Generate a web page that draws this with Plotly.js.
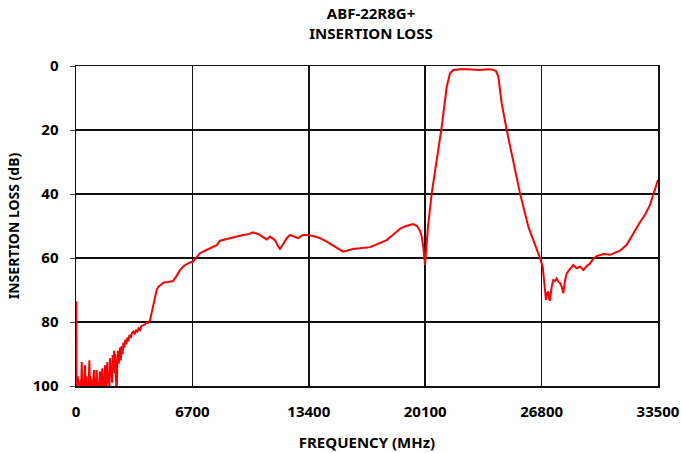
<!DOCTYPE html>
<html>
<head>
<meta charset="utf-8">
<script src="https://cdn.plot.ly/plotly-3.0.1.min.js"></script>
<style>html,body{margin:0;padding:0;background:#fff;}#chart{width:682px;height:453px;}</style>
</head>
<body>
<div id="chart"></div>
<script>
var freqMHz = [0, 15, 30, 60, 100, 140, 180, 220, 260, 300, 330, 360, 400, 440, 480, 520, 560, 600, 640, 680, 720, 770, 800, 840, 880, 920, 960, 1000, 1040, 1080, 1120, 1160, 1190, 1230, 1270, 1310, 1350, 1380, 1420, 1460, 1515, 1550, 1590, 1630, 1670, 1710, 1750, 1800, 1840, 1880, 1920, 1960, 2000, 2040, 2080, 2110, 2150, 2190, 2230, 2250, 2290, 2340, 2380, 2420, 2460, 2530, 2580, 2620, 2680, 2724, 2780, 2840, 2900, 2960, 3010, 3080, 3150, 3220, 3300, 3380, 3450, 3530, 3600, 3684, 3760, 3874, 3960, 4050, 4150, 4260, 4357, 4450, 4547, 4640, 4737, 4880, 5025, 5300, 5583, 5800, 5986, 6200, 6500, 6735, 6900, 7137, 7500, 7800, 8099, 8289, 8700, 9100, 9612, 9900, 10188, 10476, 10750, 10977, 11167, 11454, 11600, 11742, 11950, 12128, 12318, 12550, 12778, 13066, 13354, 13700, 14045, 14430, 14900, 15368, 15944, 16400, 16922, 17200, 17498, 17884, 18300, 18689, 19000, 19398, 19628, 19800, 19899, 20000, 20089, 20180, 20262, 20474, 20762, 21050, 21338, 21528, 21718, 22100, 22489, 22900, 23255, 23550, 23830, 24000, 24176, 24308, 24504, 24792, 25172, 25557, 26035, 26300, 26519, 26706, 26862, 26994, 27052, 27120, 27187, 27240, 27284, 27380, 27476, 27570, 27667, 27763, 27858, 27958, 28050, 28150, 28244, 28430, 28626, 28816, 29010, 29200, 29400, 29586, 29780, 29970, 30350, 30735, 31000, 31313, 31697, 31950, 32174, 32463, 32750, 33039, 33300, 33500];
var insertionLossDB = [100, 73.5, 100, 102, 97, 101, 99, 103, 98, 101, 92.5, 101, 98, 102, 96, 93.5, 102, 97, 101, 99, 102, 92, 101, 97, 102, 98, 101, 99, 95, 102, 98, 101, 95, 102, 99, 101, 97, 95.5, 102, 98, 94.5, 101, 97, 102, 93.5, 99, 101, 92.5, 99, 96, 101, 91.3, 97, 94, 99, 90.3, 95, 89, 96, 90, 94, 103, 92, 89, 93, 88, 92, 87.5, 90, 86.5, 88, 85.5, 87, 84.8, 86, 84, 85, 83.5, 83, 83.8, 82.5, 83, 82, 82.5, 81.3, 81, 80.8, 80.2, 80.3, 79.5, 77, 74, 71.6, 70, 69, 68.2, 67.7, 67.5, 67.2, 65.5, 63.8, 62.5, 61.5, 61.1, 60, 58.5, 57.5, 56.8, 56, 54.6, 54, 53.6, 52.8, 52.6, 52, 52.5, 53.5, 54.2, 53.3, 54.4, 56, 57.2, 55.5, 53.8, 52.8, 53.2, 53.8, 52.8, 52.8, 53.2, 53.8, 54.9, 56.5, 58, 57.2, 57, 56.6, 56, 55.2, 54.4, 52.5, 50.7, 50, 49.4, 50, 51.5, 53.3, 57, 62.2, 56, 50.2, 39.8, 29.4, 19, 6.5, 2.3, 1.25, 1.0, 1.0, 1.2, 1.25, 1.1, 1.0, 1.2, 1.6, 3.3, 11.7, 20, 29.4, 39.8, 50.2, 54, 57, 60, 62.7, 70, 73.1, 71, 70.5, 73, 73.1, 69, 66.9, 67.2, 66.4, 67.4, 67.8, 69, 71, 67, 64.8, 63.5, 62.2, 63.2, 62.7, 63.75, 62.5, 61.7, 60.2, 59.4, 58.75, 59, 58.5, 57.7, 55.9, 53.5, 51.25, 48.8, 46.5, 43.4, 39, 35.6];
var xTickValues = [0, 6700, 13400, 20100, 26800, 33500];
var xTickLabels = ['0', '6700', '13400', '20100', '26800', '33500'];
var yTickValues = [0, 20, 40, 60, 80, 100];

var fontFamily = '"Noto Sans", "Open Sans", Arial, sans-serif';
var trace = {
  x: freqMHz,
  y: insertionLossDB,
  type: 'scatter',
  mode: 'lines',
  line: {color: '#ff0000', width: 2},
  hoverinfo: 'x+y'
};
var layout = {
  width: 682,
  height: 453,
  margin: {l: 76, r: 24, t: 66, b: 67},
  paper_bgcolor: '#ffffff',
  plot_bgcolor: '#ffffff',
  showlegend: false,
  title: {
    text: '<b>ABF-22R8G+</b><br><b>INSERTION LOSS</b>',
    font: {family: fontFamily, size: 15, color: '#000'},
    x: 0.544, xref: 'container', xanchor: 'center',
    y: 0.957, yref: 'container', yanchor: 'middle'
  },
  xaxis: {
    range: [0, 33500],
    tickvals: xTickValues,
    ticktext: xTickLabels,
    ticks: '',
    ticklabelstandoff: 11,
    showgrid: true,
    gridcolor: '#111',
    gridwidth: 1.5,
    showline: true,
    linecolor: '#111',
    linewidth: 1.5,
    mirror: true,
    zeroline: false,
    tickfont: {family: fontFamily, size: 15, color: '#000', weight: 'bold'},
    title: {text: '<b>FREQUENCY (MHz)</b>', font: {family: fontFamily, size: 15, color: '#000'}, standoff: 18}
  },
  yaxis: {
    range: [100, 0],
    tickvals: yTickValues,
    ticks: 'outside',
    ticklen: 5,
    tickcolor: '#444',
    ticklabelstandoff: 8,
    showgrid: true,
    gridcolor: '#111',
    gridwidth: 1.5,
    showline: true,
    linecolor: '#111',
    linewidth: 1.5,
    mirror: true,
    zeroline: false,
    tickfont: {family: fontFamily, size: 15, color: '#000', weight: 'bold'},
    title: {text: '<b>INSERTION LOSS (dB)</b>', font: {family: fontFamily, size: 14, color: '#000'}, standoff: 10}
  }
};
Plotly.newPlot('chart', [trace], layout, {displayModeBar: false, staticPlot: true});
</script>
</body>
</html>
